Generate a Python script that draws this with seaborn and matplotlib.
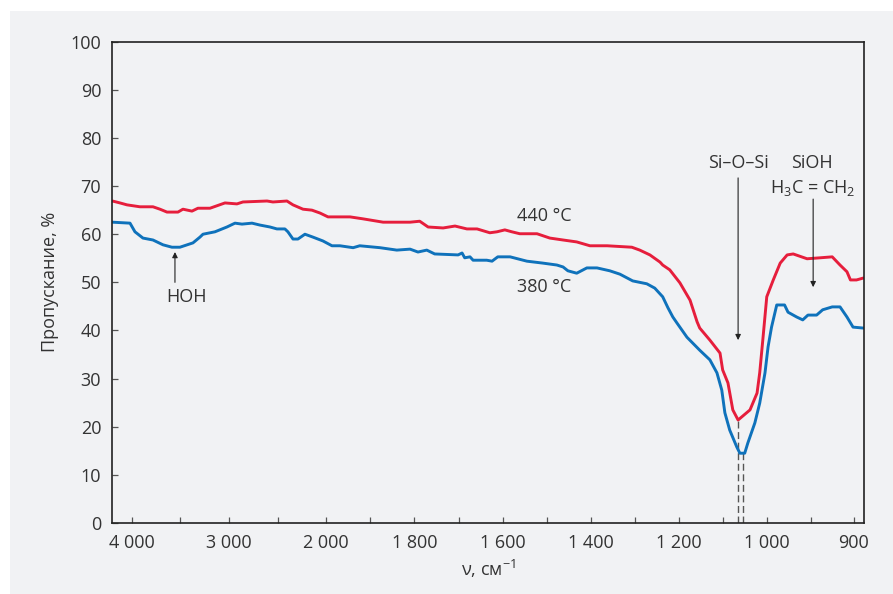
import numpy as np
import matplotlib
matplotlib.use("Agg")
import matplotlib.pyplot as plt
from matplotlib.patches import Rectangle
import seaborn as sns

# ---- data ----
wn_440 = [4198, 4120, 4048, 3915, 3781, 3709, 3637, 3524, 3473, 3380, 3319, 3195, 3041, 2918, 2856,
          2609, 2548, 2404, 2342, 2239, 2147, 2064, 1996, 1946, 1917, 1871, 1810, 1788, 1769, 1735,
          1708, 1681, 1658, 1629, 1613, 1595, 1579, 1561, 1522, 1493, 1463, 1432, 1402, 1363, 1307,
          1289, 1266, 1243, 1237, 1221, 1198, 1175, 1159, 1153, 1130, 1107, 1101, 1089, 1078, 1066,
          1039, 1023, 1017, 1010, 1001, 993, 985, 977, 970, 954, 939, 925, 916, 908, 904, 897, 889]
t_440 = [66.9, 66.5, 66.1, 65.7, 65.7, 65.2, 64.6, 64.6, 65.2, 64.8, 65.4, 65.4, 66.5, 66.3, 66.7,
         66.9, 66.7, 66.9, 66.1, 65.2, 65.0, 64.4, 63.6, 63.6, 63.2, 62.5, 62.5, 62.7, 61.5, 61.3,
         61.7, 61.1, 61.1, 60.3, 60.5, 60.9, 60.5, 60.1, 60.1, 59.2, 58.8, 58.4, 57.6, 57.6, 57.3,
         56.7, 55.7, 54.2, 53.6, 52.6, 49.9, 46.3, 41.8, 40.5, 38.0, 35.3, 31.8, 29.1, 23.5, 21.4,
         23.5, 27.0, 31.2, 38.0, 47.0, 50.5, 54.0, 55.7, 55.9, 54.9, 55.1, 55.3, 53.6, 52.2, 50.5, 50.5, 50.9]

wn_380 = [4198, 4017, 3966, 3884, 3781, 3678, 3586, 3504, 3370, 3298, 3267, 3144, 3021, 2938, 2866,
          2763, 2681, 2578, 2507, 2425, 2394, 2342, 2291, 2219, 2137, 2034, 1987, 1969, 1939, 1924,
          1878, 1840, 1810, 1792, 1772, 1754, 1701, 1692, 1686, 1674, 1667, 1636, 1624, 1611, 1583,
          1545, 1509, 1477, 1463, 1452, 1432, 1409, 1386, 1357, 1334, 1305, 1273, 1255, 1237, 1225,
          1214, 1205, 1182, 1153, 1130, 1114, 1103, 1096, 1085, 1069, 1062, 1051, 1044, 1028, 1017,
          1005, 999, 995, 989, 980, 976, 966, 959, 953, 943, 936, 925, 916, 908, 901, 889]
t_380 = [62.5, 62.3, 60.5, 59.2, 58.8, 57.8, 57.3, 57.3, 58.2, 59.4, 60.0, 60.5, 61.5, 62.3, 62.1,
         62.3, 61.9, 61.5, 61.1, 61.1, 60.5, 59.0, 59.0, 60.0, 59.4, 58.6, 57.6, 57.6, 57.2, 57.6,
         57.2, 56.7, 56.9, 56.3, 56.7, 55.9, 55.7, 56.1, 55.1, 55.3, 54.6, 54.6, 54.4, 55.3, 55.3,
         54.4, 54.0, 53.6, 53.2, 52.4, 51.9, 53.0, 53.0, 52.4, 51.7, 50.3, 49.7, 48.8, 47.0, 44.7,
         42.8, 41.6, 38.6, 35.9, 33.9, 31.2, 27.6, 22.9, 19.3, 15.8, 14.5, 14.5, 16.6, 20.8, 24.9,
         31.2, 36.6, 40.7, 45.3, 45.3, 43.8, 42.8, 42.2, 43.2, 43.2, 44.3, 44.9, 44.9, 42.8, 40.7, 40.5]

major_ticks = [4000, 3000, 2000, 1800, 1600, 1400, 1200, 1000, 900]
major_labels = ["4 000", "3 000", "2 000", "1 800", "1 600", "1 400", "1 200", "1 000", "900"]
minor_ticks = [3500, 2500, 1900, 1700, 1500, 1300, 1100, 950]
y_ticks = list(range(0, 101, 10))

min_440 = (1066, 21.4)
min_380 = (1054, 14.5)

# ---- style ----
sns.set_theme(style="ticks")
plt.rcParams["font.family"] = ["Open Sans", "DejaVu Sans"]
plt.rcParams["mathtext.fontset"] = "custom"
plt.rcParams["mathtext.rm"] = "Open Sans"
plt.rcParams["mathtext.it"] = "Open Sans"
plt.rcParams["mathtext.bf"] = "Open Sans:bold"

PANEL = "#f1f2f4"
RED = "#e61e3c"
BLUE = "#0f72bb"
TXT = "#333333"

fig = plt.figure(figsize=(8.93, 5.94), dpi=100, facecolor="white")
fig.add_artist(Rectangle((10 / 893, 0), 1 - 10 / 893, 1 - 11 / 594, transform=fig.transFigure,
                         facecolor=PANEL, edgecolor="none", zorder=-10))
ax = fig.add_axes([112.3 / 893, 1 - 523 / 594, (864.3 - 112.3) / 893, (523 - 41.7) / 594])
ax.set_facecolor(PANEL)

# piecewise-linear wavenumber axis (compressed above 2000, expanded below 1000)
_bw = np.array([-100000.0, 1000.0, 2000.0, 100000.0])
_bp = np.array([173.4 - 101000.0 * 0.867, 173.4, 614.4, 614.4 + 98000.0 * 0.0973])


def fwd(x):
    return np.interp(x, _bw, _bp)


def inv(p):
    return np.interp(p, _bp, _bw)


ax.set_xscale("function", functions=(fwd, inv))

sns.lineplot(x=wn_440, y=t_440, ax=ax, color=RED, lw=2.1, sort=False, estimator=None)
sns.lineplot(x=wn_380, y=t_380, ax=ax, color=BLUE, lw=2.1, sort=False, estimator=None)

# dashed drop lines from minima
for wn, tv in (min_440, min_380):
    ax.plot([wn, wn], [0, tv], color="#555555", lw=1.0, ls=(0, (5, 2.6)), zorder=1)

ax.set_xlim(4199, 888)
ax.set_ylim(0, 100)
ax.set_xticks(major_ticks)
ax.set_xticklabels(major_labels)
ax.set_xticks(minor_ticks, minor=True)
ax.set_xticklabels([], minor=True)
ax.set_yticks(y_ticks)

for s in ax.spines.values():
    s.set_visible(True)
    s.set_color("#222222")
    s.set_linewidth(1.2)

ax.tick_params(axis="both", which="both", direction="in", length=4.5, width=0.9,
               color="#555555", labelcolor=TXT, labelsize=13)
ax.tick_params(axis="x", which="both", pad=8)
ax.tick_params(axis="y", which="both", pad=8)

ax.set_xlabel("ν, см$^{-1}$", fontsize=13, color=TXT, labelpad=4)
ax.set_ylabel("Пропускание, %", fontsize=13, color=TXT, labelpad=8)

# annotations
arrow = dict(arrowstyle="-|>", lw=0.8, color="#222222", mutation_scale=8, shrinkA=0, shrinkB=0)
ax.annotate("", xy=(3555, 56.3), xytext=(3555, 50.0), arrowprops=arrow)
ax.text(3432, 47.0, "HOH", ha="center", va="center", fontsize=13, color=TXT)

ax.text(1506, 63.8, "440 °C", ha="center", va="center", fontsize=13, color=TXT)
ax.text(1506, 49.0, "380 °C", ha="center", va="center", fontsize=13, color=TXT)

ax.annotate("", xy=(1066, 38.0), xytext=(1066, 71.7), arrowprops=arrow)
ax.text(1066, 74.8, "Si–O–Si", ha="center", va="center", fontsize=13, color=TXT)
ax.text(948, 74.8, "SiOH", ha="center", va="center", fontsize=13, color=TXT)
ax.text(947, 69.6, "H$_3$C = CH$_2$", ha="center", va="center", fontsize=13, color=TXT)
ax.annotate("", xy=(947, 49.0), xytext=(947, 67.3), arrowprops=arrow)

fig.savefig("out.png", dpi=100, facecolor=fig.get_facecolor())
